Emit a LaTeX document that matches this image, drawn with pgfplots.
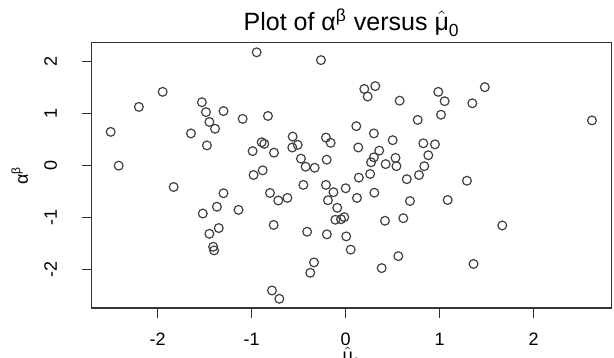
\documentclass[border=0pt]{standalone}
\usepackage{pgfplots}
\pgfplotsset{compat=1.18}
\usepackage{amsmath}
\usepackage{fontspec}
\setmainfont{Liberation Sans}
\begin{document}
\begin{tikzpicture}
\begin{axis}[
  name=ax,
  scale only axis, width=260pt, height=132.65pt,
  xmin=-2.702, xmax=2.830, ymin=-2.737, ymax=2.365,
  axis line style={black!80, line width=0.6pt},
  tick style={black!80, line width=0.6pt},
  tick align=outside, major tick length=5pt,
  xtick pos=bottom, ytick pos=left,
  xtick={-2,-1,0,1,2}, xticklabels={-2,-1,0,1,2},
  ytick={-2,-1,0,1,2}, yticklabels={-2,-1,0,1,2},
  xticklabel style={font=\fontsize{9}{10}\selectfont, anchor=center, yshift=-10.5pt},
  yticklabel style={font=\fontsize{9}{10}\selectfont, xshift=-15.5pt, rotate=90, anchor=center},
  title={Plot of $\text{α}^{\text{β}}$ versus $\hat{\text{μ}}_{\text{0}}$},
  title style={font=\fontsize{12.5}{14}\selectfont, at={(axis description cs:0.5,1)}, anchor=base, yshift=0.2pt},
  xlabel={$\hat{\text{μ}}_{\text{0}}$},
  xlabel style={font=\fontsize{9}{10}\selectfont, at={(axis description cs:0.5,0)}, anchor=north, inner sep=0pt, yshift=-19.5pt},
  ylabel={$\text{α}^{\text{β}}$},
  ylabel style={font=\fontsize{9}{10}\selectfont, at={([xshift=-36pt]axis description cs:0,0.5)}, anchor=center},
  clip=false,
]
\addplot[only marks, mark=o, mark size=2.2pt, mark options={draw=black!75, line width=0.6pt}] table {
x y
-0.947 2.18
-1.947 1.42
-2.20 1.13
-1.53 1.22
-1.486 1.03
-1.30 1.05
-1.096 0.90
-1.45 0.84
-1.39 0.71
-2.50 0.65
-1.646 0.62
-1.476 0.39
-0.99 0.28
-0.894 0.45
-2.415 0.0
-0.98 -0.18
-1.83 -0.41
-1.30 -0.53
-1.37 -0.79
-1.14 -0.85
-1.52 -0.92
-1.35 -1.20
-1.45 -1.31
-1.41 -1.56
-1.40 -1.63
-0.263 2.03
0.198 1.475
0.315 1.53
0.234 1.33
0.985 1.42
1.053 1.24
0.574 1.25
1.014 0.98
0.766 0.88
-0.827 0.956
0.113 0.76
0.30 0.62
0.50 0.49
0.826 0.43
0.95 0.41
-0.564 0.56
-0.21 0.54
-0.16 0.44
-0.866 0.42
-0.51 0.40
-0.568 0.35
-0.763 0.25
0.134 0.35
0.357 0.29
0.879 0.20
-0.476 0.135
-0.202 0.115
0.30 0.16
0.27 0.065
0.53 0.15
0.425 0.03
0.54 -0.01
0.836 -0.01
-0.426 -0.02
-0.33 -0.04
-0.883 -0.09
0.26 -0.16
0.14 -0.23
0.78 -0.18
0.65 -0.26
-0.45 -0.37
-0.21 -0.37
0.0 -0.435
-0.13 -0.51
-0.805 -0.525
-0.62 -0.62
-0.717 -0.67
-0.188 -0.665
0.12 -0.62
0.305 -0.52
0.684 -0.68
1.085 -0.66
-0.09 -0.81
-0.11 -1.04
-0.05 -1.03
-0.015 -0.99
0.418 -1.06
0.613 -1.01
-0.766 -1.14
-0.41 -1.27
-0.2 -1.32
0.006 -1.36
0.053 -1.615
0.56 -1.74
-0.337 -1.86
-0.377 -2.06
0.383 -1.97
-0.784 -2.40
-0.706 -2.56
1.48 1.51
1.347 1.20
2.62 0.87
1.29 -0.29
1.666 -1.15
1.36 -1.89
};
\end{axis}
\pgfresetboundingbox
\path[use as bounding box] ([xshift=-45.85pt,yshift=-25pt]ax.south west) rectangle ([xshift=1.15pt,yshift=21.35pt]ax.north east);
\end{tikzpicture}
\end{document}
